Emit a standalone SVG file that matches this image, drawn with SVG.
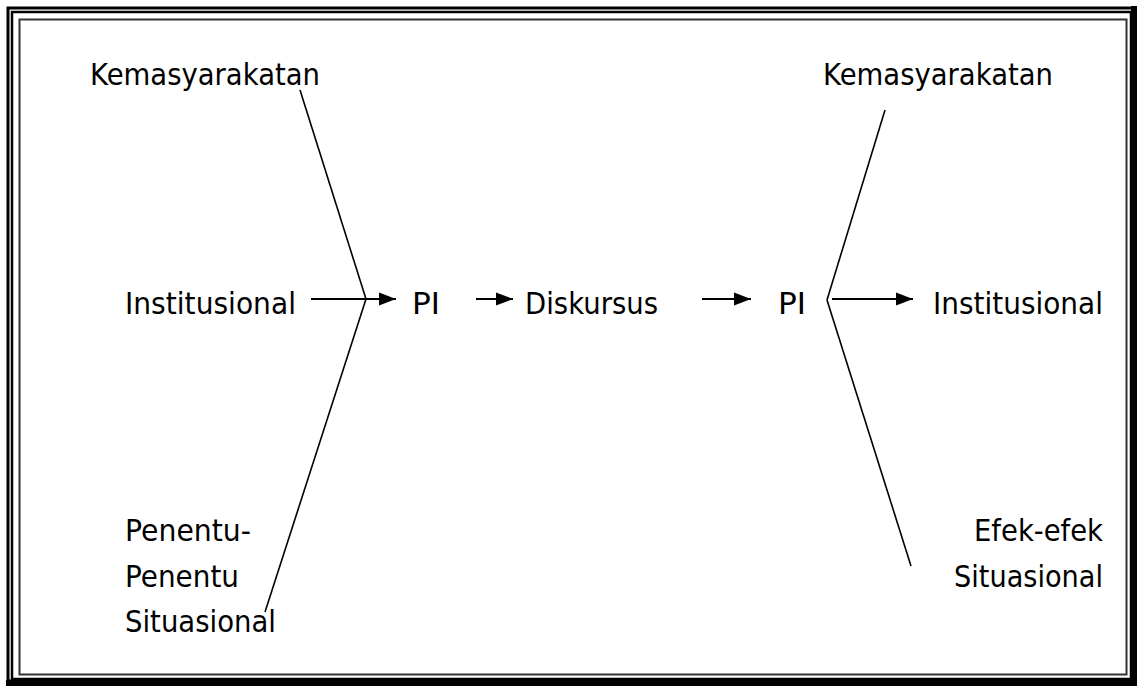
<svg xmlns="http://www.w3.org/2000/svg" width="1137" height="686" viewBox="0 0 1137 686">
  <style>
    .lbl { font-family: "DejaVu Sans", Verdana, sans-serif; font-size: 29.5px; fill: #000; }
    .end { text-anchor: end; }
    .arrow { stroke: #000; stroke-width: 2; fill: none; marker-end: url(#head); }
    .branch { stroke: #000; stroke-width: 1.6; fill: none; }
  </style>
  <defs>
    <marker id="head" markerUnits="userSpaceOnUse" markerWidth="18" markerHeight="14" refX="17" refY="7" orient="auto">
      <path d="M0,0.5 L17,7 L0,13.5 Z" fill="#000"/>
    </marker>
  </defs>
  <rect width="1137" height="686" fill="#fff"/>

  <!-- page frame -->
  <g id="frame" fill="none" stroke="#000">
    <rect x="8" y="8" width="1125" height="673" stroke-width="3"/>
    <rect x="12" y="12" width="1119" height="667" stroke-width="2.5"/>
    <rect x="19.5" y="19.5" width="1107" height="655" stroke-width="2" stroke="#333"/>
    <rect x="1131" y="6" width="6" height="680" fill="#000" stroke="none"/>
    <rect x="6" y="680" width="1131" height="6" fill="#000" stroke="none"/>
  </g>

  <!-- connectors -->
  <g id="connectors">
    <line class="branch" x1="300" y1="90" x2="366" y2="299"/>
    <line class="branch" x1="366" y1="299" x2="265" y2="612"/>
    <line class="branch" x1="885" y1="110" x2="827" y2="300"/>
    <line class="branch" x1="827" y1="300" x2="911" y2="566"/>
    <line class="arrow" x1="311" y1="299" x2="396" y2="299"/>
    <line class="arrow" x1="476" y1="299" x2="513" y2="299"/>
    <line class="arrow" x1="702" y1="299" x2="751" y2="299"/>
    <line class="arrow" x1="832" y1="299" x2="913" y2="299"/>
  </g>

  <!-- left side -->
  <g id="kemasyarakatan-left"><text class="lbl" x="90" y="85" textLength="230" lengthAdjust="spacingAndGlyphs">Kemasyarakatan</text></g>
  <g id="institusional-left"><text class="lbl" x="125" y="314" textLength="171" lengthAdjust="spacingAndGlyphs">Institusional</text></g>
  <g id="penentu-situasional">
    <text class="lbl" x="125" y="541" textLength="126" lengthAdjust="spacingAndGlyphs">Penentu-</text>
    <text class="lbl" x="125" y="587" textLength="114" lengthAdjust="spacingAndGlyphs">Penentu</text>
    <text class="lbl" x="125" y="632" textLength="151" lengthAdjust="spacingAndGlyphs">Situasional</text>
  </g>

  <!-- centre chain -->
  <g id="pi-left"><text class="lbl" x="412" y="314" textLength="28" lengthAdjust="spacingAndGlyphs">PI</text></g>
  <g id="diskursus"><text class="lbl" x="525" y="314" textLength="133" lengthAdjust="spacingAndGlyphs">Diskursus</text></g>
  <g id="pi-right"><text class="lbl" x="778" y="314" textLength="28" lengthAdjust="spacingAndGlyphs">PI</text></g>

  <!-- right side -->
  <g id="kemasyarakatan-right"><text class="lbl" x="823" y="85" textLength="230" lengthAdjust="spacingAndGlyphs">Kemasyarakatan</text></g>
  <g id="institusional-right"><text class="lbl" x="933" y="314" textLength="170" lengthAdjust="spacingAndGlyphs">Institusional</text></g>
  <g id="efek-situasional">
    <text class="lbl" x="974" y="541" textLength="129" lengthAdjust="spacingAndGlyphs">Efek-efek</text>
    <text class="lbl" x="954" y="587" textLength="149" lengthAdjust="spacingAndGlyphs">Situasional</text>
  </g>
</svg>
